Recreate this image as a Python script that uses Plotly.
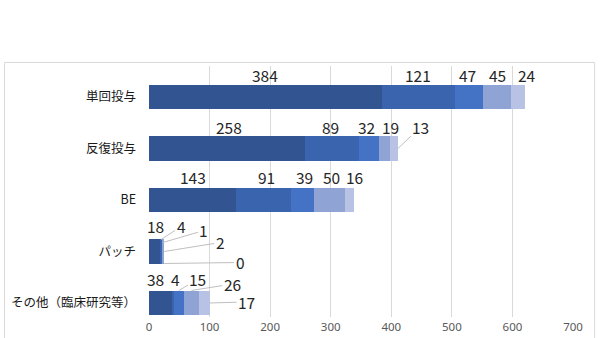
import plotly.graph_objects as go

# Categories (top to bottom) and the five stacked series per category
categories = ["単回投与", "反復投与", "BE", "パッチ", "その他（臨床研究等）"]
series_1 = [384, 258, 143, 18, 38]
series_2 = [121, 89, 91, 4, 4]
series_3 = [47, 32, 39, 1, 15]
series_4 = [45, 19, 50, 2, 26]
series_5 = [24, 13, 16, 0, 17]
x_ticks = [0, 100, 200, 300, 400, 500, 600, 700]

series = [series_1, series_2, series_3, series_4, series_5]
colors = ["#325592", "#3B64AE", "#4472C4", "#8FA3D4", "#B8C2E4"]

# Label placement per (category, series):
# ("above", dx, dy)               -> text above the segment centre, shifted by pixels
# ("lead", anchor, ys, ax, ay)    -> text with a leader line; anchor "c" = segment centre,
#                                    "e" = segment end; ys = vertical shift of the line's end
label_style = [
    [("above", 0, 22), ("above", 0, 22), ("above", -2, 22), ("above", 1, 22), ("above", 9, 22)],
    [("above", 2, 22), ("above", -2, 22), ("above", -2, 22), ("above", 6, 22), ("lead", "e", 0, 23, -22)],
    [("above", 1, 23), ("above", 3, 23), ("above", 2, 23), ("above", 2, 23), ("above", 5, 23)],
    [("above", 1.5, 25), ("lead", "c", 12, 20, -13), ("lead", "e", 9, 41, -12),
     ("lead", "e", 0, 56, -9), ("lead", "e", -12, 76, -1)],
    [("above", -5, 24), ("above", 2, 24), ("lead", "c", 12.5, 19, -11.5),
     ("lead", "c", 12.5, 41, -6.5), ("lead", "e", 0, 37, -1)],
]

fig = go.Figure()
for vals, col in zip(series, colors):
    fig.add_trace(go.Bar(
        y=categories, x=vals, orientation="h",
        marker=dict(color=col, line=dict(width=0)),
        width=0.485, showlegend=False, hoverinfo="x+y",
    ))

label_font = dict(family="Noto Sans CJK JP", size=15.5, color="#262626")
annotations = []
for ci, cat in enumerate(categories):
    start = 0
    for si, vals in enumerate(series):
        v = vals[ci]
        centre = start + v / 2
        end = start + v
        style = label_style[ci][si]
        if style[0] == "above":
            annotations.append(dict(
                x=centre, y=cat, xref="x", yref="y", text=str(v),
                showarrow=False, xshift=style[1], yshift=style[2], font=label_font,
            ))
        else:
            _, anchor, ys, ax, ay = style
            annotations.append(dict(
                x=centre if anchor == "c" else end, y=cat, xref="x", yref="y",
                text=str(v), showarrow=True, arrowhead=0, arrowwidth=1,
                arrowcolor="#BFBFBF", standoff=0, startstandoff=0,
                ax=ax, ay=ay, axref="pixel", ayref="pixel", yshift=ys,
                font=label_font,
            ))
        start = end

fig.update_layout(
    barmode="stack",
    width=600, height=338,
    margin=dict(l=149, r=26.7, t=66, b=21, autoexpand=False),
    paper_bgcolor="white", plot_bgcolor="white",
    annotations=annotations,
    shapes=[dict(
        type="rect", xref="paper", yref="paper",
        x0=-0.3406, x1=1.0511, y0=-0.3, y1=1.0139,
        line=dict(color="#D9D9D9", width=1), fillcolor="rgba(0,0,0,0)", layer="below",
    )],
    xaxis=dict(
        range=[0, 700], tickvals=x_ticks, showgrid=True, gridcolor="#D9D9D9",
        gridwidth=1, zeroline=False, showline=False, ticks="", ticklabelstandoff=1,
        automargin=False,
        tickfont=dict(family="Noto Sans", size=11.5, color="#595959"),
    ),
    yaxis=dict(
        type="category", categoryorder="array", categoryarray=categories,
        range=[4.272, -0.602], showgrid=False, zeroline=False, showline=False,
        ticks="", ticklabelstandoff=12, automargin=False,
        tickfont=dict(family="Noto Sans CJK JP", size=12.5, color="#1A1A1A"),
    ),
)

fig.write_html("out.html")
